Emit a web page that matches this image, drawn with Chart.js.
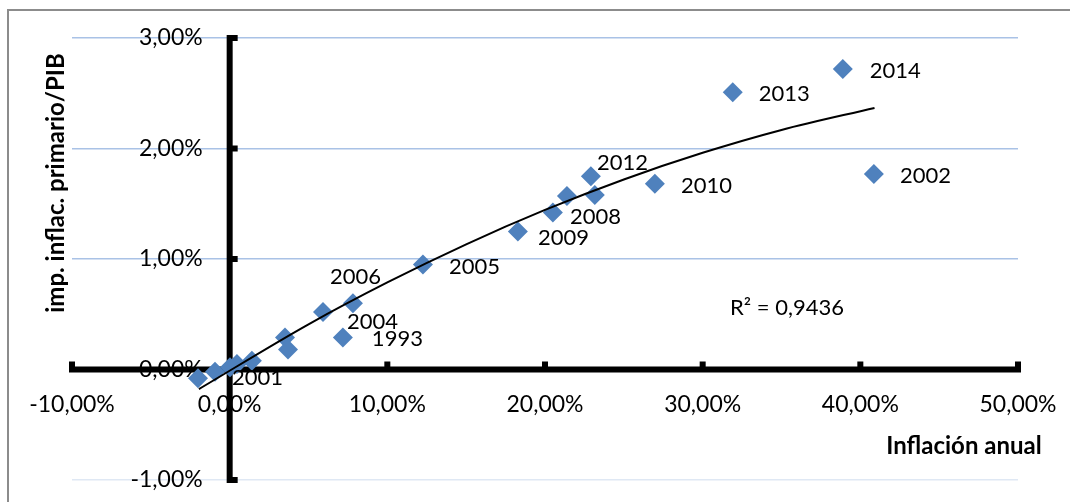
<!DOCTYPE html>
<html><head><meta charset="utf-8">
<script src="https://cdn.jsdelivr.net/npm/chart.js@4.4.0/dist/chart.umd.min.js"></script>
<style>html,body{margin:0;padding:0;background:#fff;overflow:hidden;} #wrap{width:1070px;height:502px;}</style>
</head><body><div id="wrap"><canvas id="c" width="1070" height="502"></canvas></div>
<script>
// ---- data (values in percent) ----
const inflacion = [-2.01, -0.93, 0.02, 0.46, 1.41, 3.51, 3.70, 5.92, 7.82, 7.18, 12.26, 18.28, 20.50, 21.39, 22.91, 23.16, 26.97, 31.91, 38.89, 40.86];
const impuesto  = [-0.08, -0.02, 0.02, 0.05, 0.08, 0.29, 0.18, 0.52, 0.60, 0.29, 0.95, 1.25, 1.42, 1.57, 1.75, 1.58, 1.68, 2.51, 2.72, 1.77];
const anios     = ['', '', '2001', '', '', '', '', '2004', '2006', '1993', '2005', '2009', '2008', '', '2012', '', '2010', '2013', '2014', '2002'];
// polynomial trend line
const trendX = [-1.95, 5, 10, 15, 20, 25, 30, 35, 40.9];
const trendY = [-0.177, 0.409, 0.788, 1.133, 1.444, 1.720, 1.961, 2.168, 2.367];
const xTicks = [-10, 0, 10, 20, 30, 40, 50];
const xTickLabels = ['-10,00%', '0,00%', '10,00%', '20,00%', '30,00%', '40,00%', '50,00%'];
const yTicks = [-1, 0, 1, 2, 3];
const yTickLabels = ['-1,00%', '0,00%', '1,00%', '2,00%', '3,00%'];
const r2Text = 'R² = 0,9436';
const xTitle = 'Inflación anual';
const yTitle = 'imp. inflac. primario/PIB';

// ---- styling ----
const labelOffsets = [[0,0],[0,0],[2,11],[0,0],[0,0],[0,0],[0,0],[24,10],[-23,-26],[29,1],[26,2],[20,7],[17,4],[0,0],[6,-13],[0,0],[26,2],[26,2],[27,2],[26,2]];
const FONT = '22px Lato';
const TICKFONT = '23px Lato';
const BOLD = 'bold 24px Lato';

const deco = {
  id: 'deco',
  beforeDraw(chart) {
    const ctx = chart.ctx;
    ctx.save();
    ctx.fillStyle = '#fff';
    ctx.fillRect(0, 0, chart.width, chart.height);
    ctx.strokeStyle = '#8c8c8c';
    ctx.lineWidth = 2;
    ctx.strokeRect(8, 10, chart.width + 50, chart.height + 50);
    ctx.restore();
  },
  beforeDatasetsDraw(chart) {
    const {ctx, scales: {x, y}} = chart;
    const x0 = x.getPixelForValue(0), y0 = y.getPixelForValue(0);
    ctx.save();
    ctx.fillStyle = '#000';
    ctx.font = TICKFONT;
    ctx.textBaseline = 'middle';
    ctx.textAlign = 'right';
    yTicks.forEach((v, i) => ctx.fillText(yTickLabels[i], x0 - 27, y.getPixelForValue(v)));
    ctx.textAlign = 'center';
    xTicks.forEach((v, i) => ctx.fillText(xTickLabels[i], x.getPixelForValue(v), y0 + 35));
    // axes
    ctx.strokeStyle = '#000';
    ctx.lineWidth = 6;
    ctx.lineCap = 'square';
    ctx.beginPath();
    ctx.moveTo(x.left, y0); ctx.lineTo(x.right, y0);
    ctx.moveTo(x0, y.top); ctx.lineTo(x0, y.bottom);
    ctx.stroke();
    xTicks.forEach(v => { const px = x.getPixelForValue(v); ctx.fillRect(px - 3, y0 - 8, 6, 6); });
    yTicks.forEach(v => { const py = y.getPixelForValue(v); ctx.fillRect(x0 + 2, py - 3, 6, 6); });
    // titles
    ctx.font = BOLD;
    ctx.textAlign = 'center';
    ctx.fillText(xTitle, 964, 446);
    ctx.save();
    ctx.translate(56, 183);
    ctx.rotate(-Math.PI / 2);
    ctx.fillText(yTitle, 0, 0);
    ctx.restore();
    ctx.font = FONT;
    ctx.textAlign = 'left';
    ctx.fillText(r2Text, 730, 308);
    ctx.restore();
  },
  afterDatasetsDraw(chart) {
    const ctx = chart.ctx;
    const meta = chart.getDatasetMeta(1);
    ctx.save();
    ctx.fillStyle = '#000';
    ctx.font = FONT;
    ctx.textAlign = 'left';
    ctx.textBaseline = 'middle';
    meta.data.forEach((pt, i) => {
      if (!anios[i]) return;
      ctx.fillText(anios[i], pt.x + labelOffsets[i][0], pt.y + labelOffsets[i][1]);
    });
    ctx.restore();
  }
};

new Chart(document.getElementById('c'), {
  type: 'scatter',
  data: {
    datasets: [
      {
        type: 'line',
        data: trendX.map((v, i) => ({x: v, y: trendY[i]})),
        borderColor: '#000',
        borderWidth: 2,
        pointRadius: 0,
        cubicInterpolationMode: 'monotone',
        fill: false
      },
      {
        data: inflacion.map((v, i) => ({x: v, y: impuesto[i]})),
        pointStyle: 'rectRot',
        pointRadius: 10,
        backgroundColor: '#4F81BD',
        borderColor: '#4F81BD',
        borderWidth: 0
      }
    ]
  },
  options: {
    responsive: false,
    animation: false,
    devicePixelRatio: 1,
    events: [],
    layout: {padding: {left: 72, right: 52, top: 38, bottom: 22}},
    plugins: {legend: {display: false}, tooltip: {enabled: false}},
    scales: {
      x: {
        type: 'linear', min: -10, max: 50,
        ticks: {display: false, stepSize: 10},
        grid: {display: false},
        border: {display: false},
        afterFit(s) { s.height = 0; }
      },
      y: {
        type: 'linear', min: -1, max: 3,
        ticks: {display: false, stepSize: 1},
        grid: {color: ctx => (ctx.tick && ctx.tick.value === -1 ? '#dfe8f4' : '#a9c2e6'), lineWidth: 1.5, drawTicks: false},
        border: {display: false},
        afterFit(s) { s.width = 0; }
      }
    }
  },
  plugins: [deco]
});
</script>
</body></html>
